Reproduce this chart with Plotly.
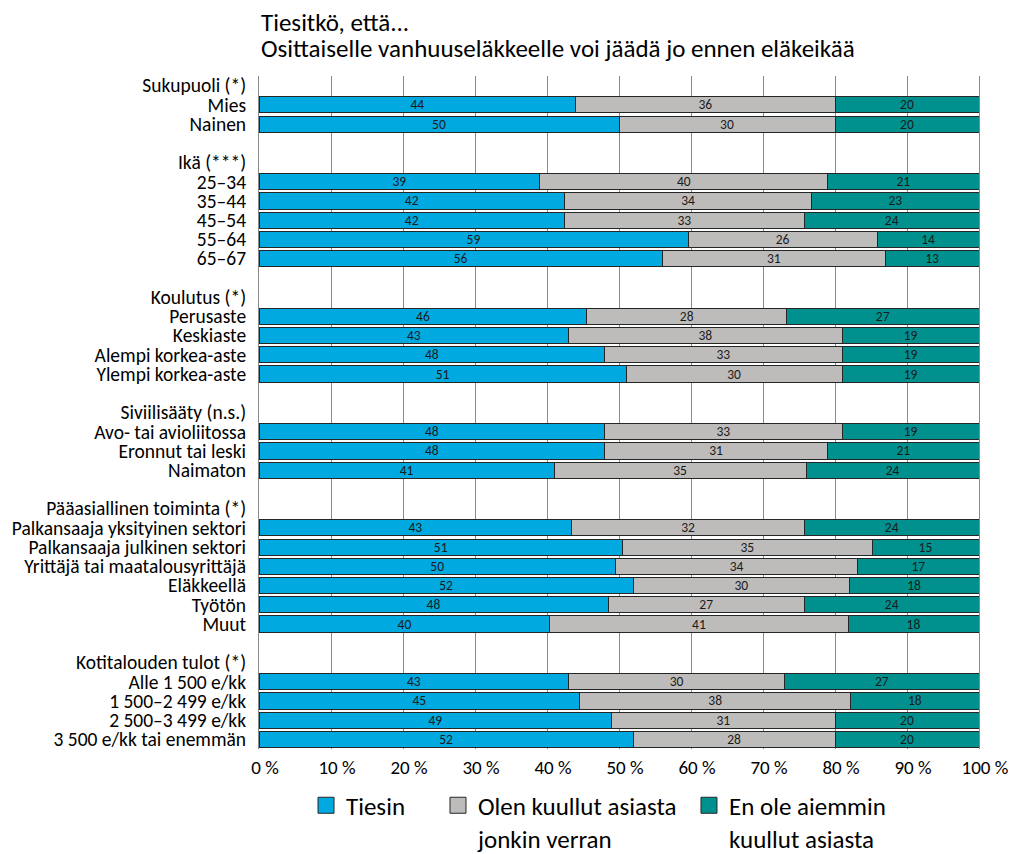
import plotly.graph_objects as go

categories = [
    "Sukupuoli (*)", "Mies", "Nainen", " ",
    "Ikä (***)", "25–34", "35–44", "45–54", "55–64", "65–67", "  ",
    "Koulutus (*)", "Perusaste", "Keskiaste", "Alempi korkea-aste", "Ylempi korkea-aste", "   ",
    "Siviilisääty (n.s.)", "Avo- tai avioliitossa", "Eronnut tai leski", "Naimaton", "    ",
    "Pääasiallinen toiminta (*)", "Palkansaaja yksityinen sektori", "Palkansaaja julkinen sektori",
    "Yrittäjä tai maatalousyrittäjä", "Eläkkeellä", "Työtön", "Muut", "     ",
    "Kotitalouden tulot (*)", "Alle 1 500 e/kk", "1 500–2 499 e/kk", "2 500–3 499 e/kk", "3 500 e/kk tai enemmän",
]

N = None
tiesin = [N, 44, 50, N,
          N, 39, 42, 42, 59, 56, N,
          N, 46, 43, 48, 51, N,
          N, 48, 48, 41, N,
          N, 43, 51, 50, 52, 48, 40, N,
          N, 43, 45, 49, 52]
kuullut = [N, 36, 30, N,
           N, 40, 34, 33, 26, 31, N,
           N, 28, 38, 33, 30, N,
           N, 33, 31, 35, N,
           N, 32, 35, 34, 30, 27, 41, N,
           N, 30, 38, 31, 28]
en_ole = [N, 20, 20, N,
          N, 21, 23, 24, 14, 13, N,
          N, 27, 19, 19, 19, N,
          N, 19, 21, 24, N,
          N, 24, 15, 17, 18, 24, 18, N,
          N, 27, 18, 20, 20]

series_names = ["Tiesin", "Olen kuullut asiasta<br>jonkin verran", "En ole aiemmin<br>kuullut asiasta"]
series_values = [tiesin, kuullut, en_ole]
series_colors = ["#00A9E0", "#BEBCBA", "#00918E"]

title_lines = ["Tiesitkö, että...", "Osittaiselle vanhuuseläkkeelle voi jäädä jo ennen eläkeikää"]

tick_vals = [0, 10, 20, 30, 40, 50, 60, 70, 80, 90, 100]
tick_text = [f"{v} %" for v in tick_vals]

FONT = "Carlito, Lato, sans-serif"
OUTLINE = "#262626"

fig = go.Figure()
legend_ids = ["legend", "legend2", "legend3"]
for name, vals, color, lid in zip(series_names, series_values, series_colors, legend_ids):
    fig.add_trace(go.Bar(
        y=categories, x=vals, name=name, orientation="h",
        marker=dict(color=color, line=dict(color=OUTLINE, width=1)),
        text=[("" if v is None else str(v)) for v in vals],
        textposition="inside", insidetextanchor="middle", textangle=0,
        constraintext="none",
        textfont=dict(size=13.5, color="#1a1a1a", family=FONT),
        showlegend=False,
    ))
    # legend-only entry with a larger square swatch
    fig.add_trace(go.Scatter(
        x=[None], y=[None], mode="markers", name=name,
        marker=dict(symbol="square", size=16, color=color, line=dict(color=OUTLINE, width=1)),
        legend=lid, showlegend=True,
    ))

legend_common = dict(
    orientation="v", xanchor="left", yanchor="top",
    xref="paper", yref="container", y=0.0845,
    font=dict(size=25, family=FONT, color="#000000"),
    valign="top", bgcolor="rgba(0,0,0,0)", itemwidth=30,
)

fig.update_layout(
    width=1008, height=846,
    barmode="stack", barnorm="percent", bargap=0.16,
    plot_bgcolor="white", paper_bgcolor="white",
    font=dict(family=FONT, color="#000000"),
    margin=dict(l=251, r=37, t=68, b=105),
    legend=dict(x=0.0653, **legend_common),
    legend2=dict(x=0.2486, **legend_common),
    legend3=dict(x=0.5972, **legend_common),
    uniformtext=dict(mode="show", minsize=13.5),
    annotations=[
        dict(text=title_lines[0], x=0, y=1.0802, xref="paper", yref="paper",
             xanchor="left", yanchor="middle", showarrow=False,
             font=dict(size=25, family=FONT, color="#000000")),
        dict(text=title_lines[1], x=0, y=1.0416, xref="paper", yref="paper",
             xanchor="left", yanchor="middle", showarrow=False,
             font=dict(size=25, family=FONT, color="#000000")),
    ],
)

fig.update_xaxes(
    range=[0, 100], tickvals=tick_vals, ticktext=tick_text,
    showgrid=True, gridcolor="#8a8a8a", gridwidth=1,
    zeroline=False, ticks="outside", ticklen=1, tickcolor="rgba(0,0,0,0)",
    ticklabelshift=6,
    tickfont=dict(size=19, family=FONT, color="#000000"),
    fixedrange=True, automargin=False,
)
fig.update_yaxes(
    autorange="reversed", categoryorder="array", categoryarray=categories,
    tickmode="array", tickvals=categories, ticktext=categories,
    showgrid=False, showline=True, linecolor="#8a8a8a", linewidth=1, mirror=True,
    ticks="outside", ticklen=8, tickcolor="rgba(0,0,0,0)",
    tickfont=dict(size=19.5, family=FONT, color="#000000"),
    automargin=False,
)

fig.write_html("out.html")
